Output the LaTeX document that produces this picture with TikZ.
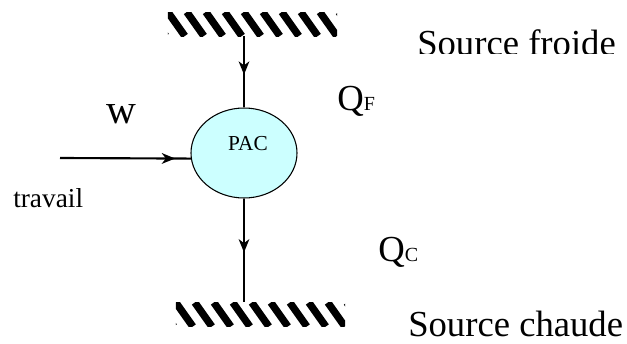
\documentclass[tikz,border=0pt]{standalone}
\usepackage{fontspec}
\setmainfont{Liberation Serif}
\usetikzlibrary{arrows.meta,shapes.geometric,decorations.markings}
\definecolor{FillPAC}{RGB}{204,255,255}

\begin{document}
\begin{tikzpicture}[x=0.75pt, y=-0.75pt,
            bar/.style={minimum width=127pt, minimum height=18pt, inner sep=0pt,
                path picture={\foreach \i in {-1,...,9} {
                    \draw[line width=5.5pt] ([xshift=\i*14.25pt]path picture bounding box.north west) -- ++(17,24);}}},
            pac/.style={draw, thick, ellipse, fill=FillPAC, minimum width=79.5pt, minimum height=67.5pt, inner sep=0pt},
            lbl/.style={anchor=base west, inner sep=0pt, font=\fontsize{27.5}{30}\selectfont},
            midarr/.style={line width=1.3pt, postaction={decorate},
                decoration={markings, mark=at position #1 with {\arrow{Stealth[length=10pt, width=8pt, inset=3pt]}}}}
        ]
            \useasboundingbox (0,0) rectangle (627,343);
            \node[bar] (froid) at (252.5,24)  {};
            \node[bar] (chaud) at (260.5,314.5) {};
            \node[pac] (pac)   at (244,153)   {};
            \node[font=\fontsize{16}{18}\selectfont, inner sep=0pt] (nompac) at (248,144) {PAC};
            \coordinate (w0) at (60,158);
            \draw[midarr=0.54] (pac.north |- froid.south) -- (pac.north);
            \draw[midarr=0.52] (pac.south) -- (pac.south |- chaud.north);
            \draw[midarr=0.88, line width=1.6pt] (w0) -- (pac.186);
            \node[lbl, font=\fontsize{31}{33}\selectfont] (travw) at (106,123) {w};
            \node[lbl, font=\fontsize{20.5}{22}\selectfont] (trav)  at (13,207)  {travail};
            \node[lbl] (qf) at (337,110) {Q{\fontsize{15}{17}\selectfont F}};
            \node[lbl] (qc) at (378,261) {Q{\fontsize{15}{17}\selectfont C}};
            \begin{scope}
                \clip (400,0) rectangle (627,53);
                \node[lbl] (sfroide) at (417,55) {Source froide};
            \end{scope}
            \node[lbl] (schaude) at (408,336) {Source chaude};
        \end{tikzpicture}
\end{document}
